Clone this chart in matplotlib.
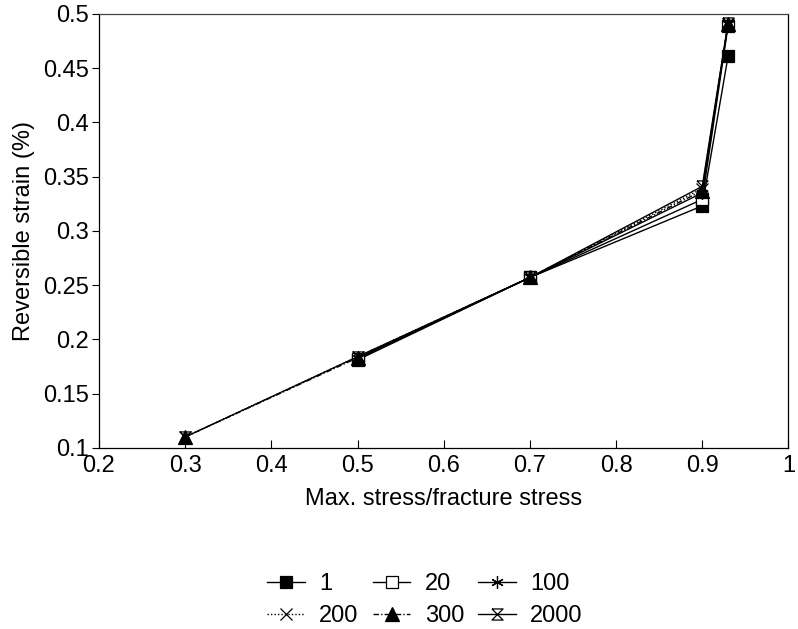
import matplotlib
matplotlib.use("Agg")
import matplotlib.pyplot as plt

plt.rcParams['font.family'] = ['Liberation Sans', 'DejaVu Sans']

# data
ratio = [0.3, 0.5, 0.7, 0.9, 0.93]
s1 = [None, 0.181, 0.257, 0.323, 0.461]
s20 = [None, 0.182, 0.257, 0.329, 0.489]
s100 = [None, 0.183, 0.257, 0.335, 0.491]
s200 = [0.110, 0.184, 0.257, 0.339, 0.491]
s300 = [0.110, 0.183, 0.257, 0.337, 0.491]
s2000 = [0.110, 0.184, 0.257, 0.341, 0.492]

labels = ['1', '20', '100', '200', '300', '2000']
series = [s1, s20, s100, s200, s300, s2000]

hourglass = [(-1, 1), (1, 1), (-1, -1), (1, -1), (-1, 1)]
markers = ['s', 's', (6, 2, 0), 'x', '^', hourglass]
fills = ['black', 'white', 'black', 'black', 'black', 'none']
msizes = [9, 9, 9, 9, 10, 8]
styles = ['-', '-', '-', (0, (1, 1.5)), (0, (4, 1.5, 1, 1.5)), '-']

fig = plt.figure(figsize=(7.98, 6.29), dpi=100)
ax = fig.add_axes([0.124, 0.288, 0.864, 0.690])

handles = []
for lab, ys, m, fc, ms, ls in zip(labels, series, markers, fills, msizes, styles):
    xs = [x for x, y in zip(ratio, ys) if y is not None]
    yy = [y for y in ys if y is not None]
    h, = ax.plot(xs, yy, color='black', lw=1.0, linestyle=ls, marker=m,
                 markersize=ms, markerfacecolor=fc, markeredgecolor='black',
                 markeredgewidth=0.9, label=lab)
    handles.append(h)

ax.set_xlim(0.2, 1.0)
ax.set_ylim(0.1, 0.5)
ax.set_xticks([0.2, 0.3, 0.4, 0.5, 0.6, 0.7, 0.8, 0.9, 1.0])
ax.set_xticklabels(['0.2', '0.3', '0.4', '0.5', '0.6', '0.7', '0.8', '0.9', '1'])
ax.set_yticks([0.1, 0.15, 0.2, 0.25, 0.3, 0.35, 0.4, 0.45, 0.5])
ax.set_yticklabels(['0.1', '0.15', '0.2', '0.25', '0.3', '0.35', '0.4', '0.45', '0.5'])
ax.tick_params(axis='x', direction='in', labelsize=17, length=6, pad=5)
ax.tick_params(axis='y', direction='out', labelsize=17, length=5, pad=2)
for sp in ax.spines.values():
    sp.set_linewidth(0.9)
ax.spines['top'].set_color('#444444')

ax.set_xlabel('Max. stress/fracture stress', fontsize=17, labelpad=8)
ax.set_ylabel('Reversible strain (%)', fontsize=17, labelpad=6)

# legend is filled row by row in the reference
order = [0, 3, 1, 4, 2, 5]
fig.legend([handles[i] for i in order], [labels[i] for i in order],
           loc='upper left', bbox_to_anchor=(0.320, 0.108), ncol=3, frameon=False,
           fontsize=17, handlelength=1.6, handletextpad=0.6, columnspacing=0.6,
           labelspacing=0.45, borderpad=0)

fig.savefig('out.png', dpi=100)
